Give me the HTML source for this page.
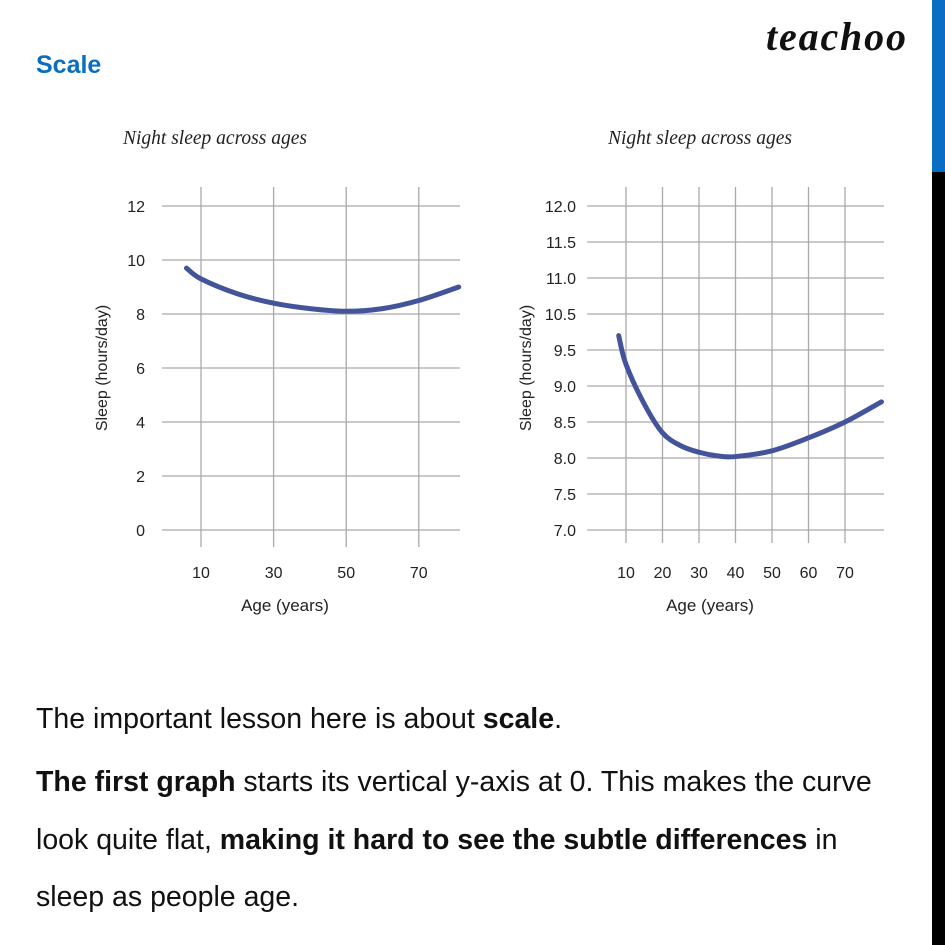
<!DOCTYPE html>
<html><head><meta charset="utf-8"><style>
html,body{margin:0;padding:0;background:#fff;width:945px;height:945px;overflow:hidden}
svg{display:block}
</style></head><body>
<svg id="root" width="945" height="945" xmlns="http://www.w3.org/2000/svg">
<rect x="932" y="0" width="13" height="172" fill="#0a6fc2"/>
<rect x="932" y="172" width="13" height="773" fill="#000"/>
<text x="36" y="73" font-family="Liberation Sans, sans-serif" font-weight="bold" font-size="25" fill="#0a6fc2">Scale</text>
<text x="766" y="50" font-family="Liberation Serif, serif" font-style="italic" font-weight="bold" font-size="40" fill="#111" textLength="140">teachoo</text>
<g id="c1"></g>
<g id="c2"></g>
<g font-family="Liberation Sans, sans-serif" font-size="28.5" fill="#111">
<text x="36" y="728">The important lesson here is about <tspan font-weight="bold">scale</tspan>.</text>
<text x="36" y="791"><tspan font-weight="bold">The first graph</tspan> starts its vertical y-axis at 0. This makes the curve</text>
<text x="36" y="849">look quite flat, <tspan font-weight="bold">making it hard to see the subtle differences</tspan> in</text>
<text x="36" y="906">sleep as people age.</text>
</g>
</svg>
<script>
const leftAges=[6,10,20,30,40,50,60,70,81];
const leftSleep=[9.7,9.3,8.75,8.4,8.2,8.1,8.2,8.5,9.0];
const leftYTicks=[0,2,4,6,8,10,12];
const leftXTicks=[10,30,50,70];
const rightAges=[8,10,15,20,25,30,35,40,50,60,70,80];
const rightSleep=[9.7,9.3,8.75,8.35,8.17,8.08,8.03,8.02,8.1,8.28,8.5,8.78];
const rightYTicks=[7.0,7.5,8.0,8.5,9.0,9.5,10.5,11.0,11.5,12.0];
const rightXTicks=[10,20,30,40,50,60,70];
const NS='http://www.w3.org/2000/svg';
function mk(p,t,a){const e=document.createElementNS(NS,t);for(const k in a)e.setAttribute(k,a[k]);p.appendChild(e);return e;}
function draw(g,o){
  const sx=v=>o.x0+(v-o.xv0)*o.kx, sy=o.sy;
  const t=mk(g,'text',{x:o.tx,y:144,'font-family':'Liberation Serif, serif','font-style':'italic','font-size':'19.5',fill:'#222'});
  t.textContent='Night sleep across ages';
  
  
  o.yt.forEach((v,i)=>{
    const y=o.tickY(v,i);
    const l=mk(g,'line',{x1:o.gl,x2:o.gr,y1:y,y2:y,stroke:'#aaa','stroke-width':1.3});
    
    
    const tx=mk(g,'text',{x:o.lx,y:y+6,'text-anchor':'end','font-family':'Liberation Sans, sans-serif','font-size':'16',fill:'#222'});
    tx.textContent=o.fmt(v);
    
    
  });
  o.xt.forEach(v=>{
    const l=mk(g,'line',{x1:sx(v),x2:sx(v),y1:187,y2:o.vb,stroke:'#aaa','stroke-width':1.3});
    
    
    const tx=mk(g,'text',{x:sx(v),y:578,'text-anchor':'middle','font-family':'Liberation Sans, sans-serif','font-size':'16',fill:'#222'});
    tx.textContent=v;
    
    
  });
  const xl=mk(g,'text',{x:o.xlx,y:611,'text-anchor':'middle','font-family':'Liberation Sans, sans-serif','font-size':'17',fill:'#222'});
  xl.textContent='Age (years)';
  
  
  const yl=mk(g,'text',{x:0,y:0,transform:`translate(${o.ylx},368) rotate(-90)`,'text-anchor':'middle','font-family':'Liberation Sans, sans-serif','font-size':'16',fill:'#222'});
  yl.textContent='Sleep (hours/day)';
  
  
  const pts=o.ax.map((a,i)=>[sx(a),sy(o.ay[i])]);
  let d='M'+pts[0].join(',');
  for(let i=0;i<pts.length-1;i++){
    const p0=pts[Math.max(0,i-1)],p1=pts[i],p2=pts[i+1],p3=pts[Math.min(pts.length-1,i+2)];
    d+=` C${p1[0]+(p2[0]-p0[0])/6},${p1[1]+(p2[1]-p0[1])/6} ${p2[0]-(p3[0]-p1[0])/6},${p2[1]-(p3[1]-p1[1])/6} ${p2[0]},${p2[1]}`;
  }
  const c=mk(g,'path',{d:d,fill:'none',stroke:'#44549a','stroke-width':5,'stroke-linecap':'round'});
  
  
}
const lsy=v=>530-v*27;
draw(document.getElementById('c1'),{x0:201,xv0:10,kx:3.63,sy:lsy,tickY:v=>lsy(v),gl:162,gr:460,lx:145,vb:547,tx:123,xlx:285,ylx:107,
  yt:leftYTicks,xt:leftXTicks,ax:leftAges,ay:leftSleep,fmt:v=>String(v)});
const rStep=(530-206)/(rightYTicks.length-1);
const rsy=v=>530-(v-7)/0.5*rStep;
draw(document.getElementById('c2'),{x0:626,xv0:10,kx:3.65,sy:rsy,tickY:(v,i)=>530-i*rStep,gl:587,gr:884,lx:576,vb:543,tx:608,xlx:710,ylx:531,
  yt:rightYTicks,xt:rightXTicks,ax:rightAges,ay:rightSleep,fmt:v=>v.toFixed(1)});
</script>
</body></html>
